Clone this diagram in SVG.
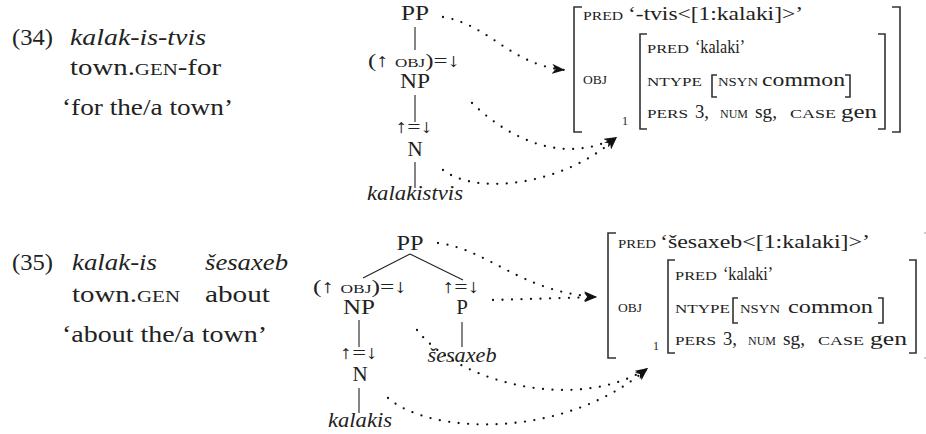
<svg xmlns="http://www.w3.org/2000/svg" width="926" height="434" viewBox="0 0 926 434" font-family="'Liberation Serif','Times New Roman',Times,'DejaVu Serif','Noto Serif',serif">
<style>
text{font-family:'Liberation Serif','Times New Roman',Times,'DejaVu Serif','Noto Serif',serif;fill:#222}
.g{font-size:23.5px}
.gs{font-size:17px}
.t{font-size:21px;text-anchor:middle}
.tl{font-size:19px;text-anchor:middle}
.ts{font-size:13px}
.a{font-size:18px}
.av{font-size:19px}
.as{font-size:12px}
.it{font-style:italic}
.ln{stroke:#222;stroke-width:1.1;fill:none}
.br{stroke:#333;stroke-width:1.6;fill:none}
.dot{stroke:#111;stroke-width:2.3;fill:none;stroke-dasharray:0 9.5;stroke-linecap:round}
</style>
<defs>
<marker id="ah" viewBox="0 0 14 10" refX="13" refY="5" markerWidth="14" markerHeight="10" markerUnits="userSpaceOnUse" orient="auto">
<path d="M0,0 L13,5 L0,10 L3.5,5 Z" fill="#111"/>
</marker>
</defs>

<g id="gloss34">
<text class="g" x="12" y="45" textLength="41" lengthAdjust="spacingAndGlyphs">(34)</text>
<text class="g it" x="70" y="45" textLength="136" lengthAdjust="spacingAndGlyphs">kalak-is-tvis</text>
<text class="g" x="70" y="75" textLength="151" lengthAdjust="spacingAndGlyphs">town.<tspan class="gs">GEN</tspan>-for</text>
<text class="g" x="62" y="115" textLength="171" lengthAdjust="spacingAndGlyphs">‘for the/a town’</text>
</g>

<g id="gloss35">
<text class="g" x="12" y="270" textLength="41" lengthAdjust="spacingAndGlyphs">(35)</text>
<text class="g it" x="72" y="270" textLength="85" lengthAdjust="spacingAndGlyphs">kalak-is</text>
<text class="g it" x="205" y="270" textLength="83" lengthAdjust="spacingAndGlyphs">šesaxeb</text>
<text class="g" x="72" y="302" textLength="108" lengthAdjust="spacingAndGlyphs">town.<tspan class="gs">GEN</tspan></text>
<text class="g" x="205" y="302" textLength="65" lengthAdjust="spacingAndGlyphs">about</text>
<text class="g" x="62" y="342" textLength="205" lengthAdjust="spacingAndGlyphs">‘about the/a town’</text>
</g>

<g id="tree34">
<g id="t34-PP"><text class="t" x="415" y="20" textLength="28" lengthAdjust="spacingAndGlyphs">PP</text></g>
<g id="t34-NP"><text class="tl" x="414" y="67" textLength="92" lengthAdjust="spacingAndGlyphs">(↑ <tspan class="ts">OBJ</tspan>)=↓</text><text class="t" x="415" y="88" textLength="30" lengthAdjust="spacingAndGlyphs">NP</text></g>
<g id="t34-N"><text class="tl" x="414" y="133" textLength="37" lengthAdjust="spacingAndGlyphs">↑=↓</text><text class="t" x="415" y="156">N</text></g>
<g id="t34-word"><text class="t it" x="415" y="200" textLength="96" lengthAdjust="spacingAndGlyphs">kalakistvis</text></g>
<path class="ln" d="M415,27V50M415,95V122M415,162V188"/>
</g>

<g id="tree35">
<g id="t35-PP"><text class="t" x="410" y="250" textLength="27" lengthAdjust="spacingAndGlyphs">PP</text></g>
<g id="t35-NP"><text class="tl" x="360" y="293" textLength="94" lengthAdjust="spacingAndGlyphs">(↑ <tspan class="ts">OBJ</tspan>)=↓</text><text class="t" x="359" y="314" textLength="32" lengthAdjust="spacingAndGlyphs">NP</text></g>
<g id="t35-P"><text class="tl" x="461" y="293" textLength="37" lengthAdjust="spacingAndGlyphs">↑=↓</text><text class="t" x="462" y="314">P</text></g>
<g id="t35-N"><text class="tl" x="359" y="359" textLength="38" lengthAdjust="spacingAndGlyphs">↑=↓</text><text class="t" x="360" y="381">N</text></g>
<g id="t35-wordP"><text class="t it" x="462" y="362" textLength="69" lengthAdjust="spacingAndGlyphs">šesaxeb</text></g>
<g id="t35-wordN"><text class="t it" x="360" y="427" textLength="64" lengthAdjust="spacingAndGlyphs">kalakis</text></g>
<path class="ln" d="M410,254L363,278M410,254L463,280M359,320V347M462,322V347M359,388V413"/>
</g>

<g id="avm34">
<path class="br" d="M582,7H574V132H582M892,7H900V132H892M647,34H640V129H647M878,34H885V129H878M717,75H712V97H717M845,75H850V97H845"/>
<text class="as" x="583" y="20" textLength="40" lengthAdjust="spacingAndGlyphs">PRED</text>
<text class="a" x="628" y="20" textLength="175" lengthAdjust="spacingAndGlyphs">‘-tvis&lt;[1:kalaki]&gt;’</text>
<text class="as" x="583" y="84" textLength="24" lengthAdjust="spacingAndGlyphs">OBJ</text>
<text x="622" y="125" style="font-size:12px">1</text>
<text class="as" x="647" y="53" textLength="42" lengthAdjust="spacingAndGlyphs">PRED</text>
<text class="a" x="695" y="53" textLength="50" lengthAdjust="spacingAndGlyphs">‘kalaki’</text>
<text class="as" x="647" y="86" textLength="55" lengthAdjust="spacingAndGlyphs">NTYPE</text>
<text class="as" x="718" y="86" textLength="40" lengthAdjust="spacingAndGlyphs">NSYN</text>
<text class="av" x="762" y="86" textLength="83" lengthAdjust="spacingAndGlyphs">common</text>
<text class="as" x="647" y="118" textLength="41" lengthAdjust="spacingAndGlyphs">PERS</text>
<text class="a" x="695" y="118" textLength="14" lengthAdjust="spacingAndGlyphs">3,</text>
<text class="as" x="720" y="118" textLength="28" lengthAdjust="spacingAndGlyphs">NUM</text>
<text class="a" x="755" y="118" textLength="22" lengthAdjust="spacingAndGlyphs">sg,</text>
<text class="as" x="790" y="118" textLength="46" lengthAdjust="spacingAndGlyphs">CASE</text>
<text class="av" x="841" y="118" textLength="36" lengthAdjust="spacingAndGlyphs">gen</text>
</g>

<g id="avm35">
<path class="br" d="M616,233H608V358H616M675,260H668V353H675M909,260H916V353H909M738,298H733V323H738M878,298H883V323H878"/>
<path d="M924,233H927M924,358H927" stroke="#999" stroke-width="1.2"/>
<text class="as" x="618" y="248" textLength="38" lengthAdjust="spacingAndGlyphs">PRED</text>
<text class="a" x="660" y="248" textLength="210" lengthAdjust="spacingAndGlyphs">‘šesaxeb&lt;[1:kalaki]&gt;’</text>
<text class="as" x="618" y="312" textLength="24" lengthAdjust="spacingAndGlyphs">OBJ</text>
<text x="653" y="350" style="font-size:12px">1</text>
<text class="as" x="675" y="280" textLength="42" lengthAdjust="spacingAndGlyphs">PRED</text>
<text class="a" x="723" y="280" textLength="50" lengthAdjust="spacingAndGlyphs">‘kalaki’</text>
<text class="as" x="675" y="313" textLength="55" lengthAdjust="spacingAndGlyphs">NTYPE</text>
<text class="as" x="740" y="313" textLength="40" lengthAdjust="spacingAndGlyphs">NSYN</text>
<text class="av" x="788" y="313" textLength="85" lengthAdjust="spacingAndGlyphs">common</text>
<text class="as" x="675" y="345" textLength="41" lengthAdjust="spacingAndGlyphs">PERS</text>
<text class="a" x="723" y="345" textLength="14" lengthAdjust="spacingAndGlyphs">3,</text>
<text class="as" x="748" y="345" textLength="28" lengthAdjust="spacingAndGlyphs">NUM</text>
<text class="a" x="783" y="345" textLength="22" lengthAdjust="spacingAndGlyphs">sg,</text>
<text class="as" x="818" y="345" textLength="46" lengthAdjust="spacingAndGlyphs">CASE</text>
<text class="av" x="870" y="345" textLength="37" lengthAdjust="spacingAndGlyphs">gen</text>
</g>

<g id="connectors">
<path class="dot" marker-end="url(#ah)" d="M443,17C490,25 510,65 565,70"/>
<path class="dot" marker-end="url(#ah)" d="M472,103C510,140 565,165 617,137"/>
<path class="dot" marker-end="url(#ah)" d="M443,170C480,198 570,182 617,137"/>
<path class="dot" marker-end="url(#ah)" d="M438,243C490,250 520,292 597,297"/>
<path class="dot" marker-end="url(#ah)" d="M493,300L597,297"/>
<path class="dot" marker-end="url(#ah)" d="M417,330C460,385 580,412 648,368"/>
<path class="dot" marker-end="url(#ah)" d="M388,398C430,435 565,440 648,368"/>
</g>
</svg>
